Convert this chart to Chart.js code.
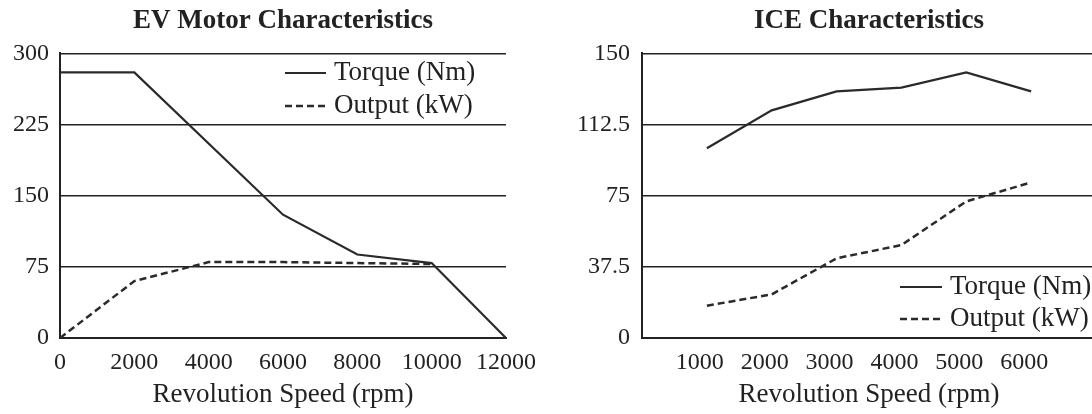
<!DOCTYPE html>
<html>
<head>
<meta charset="utf-8">
<script src="https://cdn.jsdelivr.net/npm/chart.js@4/dist/chart.umd.min.js"></script>
<style>
  html, body { margin: 0; padding: 0; background: #fff; overflow: hidden; width: 1092px; height: 414px; }
  #evChart { position: absolute; left: 0; top: 0; }
  #iceChart { position: absolute; left: 546px; top: 0; }
</style>
</head>
<body>
<canvas id="evChart" width="546" height="414"></canvas>
<canvas id="iceChart" width="550" height="414"></canvas>
<script>
// EV motor
const evTorqueRpm = [0, 2000, 6000, 8000, 10000, 12000];
const evTorque = [280, 280, 130, 88, 79, 0];
const evOutputRpm = [0, 2000, 4000, 6000, 8000, 10000];
const evOutput = [0, 60, 80, 80, 79, 78];
const evXTicks = [0, 2000, 4000, 6000, 8000, 10000, 12000];
const evYTicks = [0, 75, 150, 225, 300];

// ICE
const iceRpm = [1000, 2000, 3000, 4000, 5000, 6000];
const iceTorque = [100, 120, 130, 132, 140, 130];
const iceOutput = [17, 23, 42, 49, 72, 82];
const iceXTicks = [1000, 2000, 3000, 4000, 5000, 6000];
const iceYTicks = [0, 37.5, 75, 112.5, 150];

const serif = 'Liberation Serif';
const ink = '#222';

function pts(xs, ys) {
  return xs.map((x, i) => ({ x: x, y: ys[i] }));
}

// legend drawn as line samples inside the plot
const lineLegend = {
  id: 'lineLegend',
  afterDraw(chart, args, opts) {
    const ctx = chart.ctx;
    ctx.save();
    ctx.font = opts.size + 'px "' + serif + '"';
    ctx.textBaseline = 'middle';
    ctx.fillStyle = ink;
    chart.data.datasets.forEach((ds, i) => {
      const y = opts.y + i * opts.gap;
      ctx.beginPath();
      ctx.setLineDash(ds.borderDash || []);
      ctx.lineWidth = ds.borderWidth;
      ctx.strokeStyle = ds.borderColor;
      ctx.moveTo(opts.x, y);
      ctx.lineTo(opts.x + opts.len, y);
      ctx.stroke();
      ctx.setLineDash([]);
      ctx.fillText(ds.label, opts.x + opts.len + 8, y);
    });
    ctx.restore();
  }
};

function makeChart(id, cfg) {
  return new Chart(document.getElementById(id), {
    type: 'line',
    data: {
      datasets: [
        { label: 'Torque (Nm)', data: cfg.torque, borderColor: '#2a2a2a', borderWidth: 2.2, pointRadius: 0, tension: 0 },
        { label: 'Output (kW)', data: cfg.output, borderColor: '#2a2a2a', borderWidth: 2.5, borderDash: [7, 4], pointRadius: 0, tension: 0 }
      ]
    },
    options: {
      responsive: false,
      animation: false,
      devicePixelRatio: 1,
      layout: { padding: { left: 0, right: cfg.padRight, top: 0, bottom: 0 } },
      plugins: {
        legend: { display: false },
        tooltip: { enabled: false },
        title: {
          display: true,
          text: cfg.title,
          fullSize: false,
          color: ink,
          font: { family: serif, size: 27, weight: 'bold' },
          padding: { top: 5, bottom: 16 }
        },
        lineLegend: cfg.legend
      },
      scales: {
        x: {
          type: 'linear',
          min: cfg.xMin,
          max: cfg.xMax,
          afterBuildTicks: s => { s.ticks = cfg.xTicks.map(v => ({ value: v })); },
          afterFit: s => { s.height = 76; },
          grid: { display: false, drawTicks: false },
          border: { display: true, color: ink, width: 2 },
          ticks: {
            color: ink,
            font: { family: serif, size: 24 },
            padding: 10,
            labelOffset: cfg.labelOffset,
            maxRotation: 0,
            autoSkip: false,
            callback: v => String(v)
          },
          title: {
            display: true,
            text: 'Revolution Speed (rpm)',
            color: ink,
            font: { family: serif, size: 27 },
            padding: { top: 0, bottom: 3 }
          }
        },
        y: {
          min: 0,
          max: cfg.yMax,
          afterBuildTicks: s => { s.ticks = cfg.yTicks.map(v => ({ value: v })); },
          afterFit: s => { s.width = cfg.yWidth; },
          grid: { color: ink, lineWidth: 1.5, drawTicks: false },
          border: { display: true, color: ink, width: 2 },
          ticks: {
            color: ink,
            font: { family: serif, size: 24 },
            padding: cfg.yPad,
            callback: v => String(v)
          }
        }
      }
    },
    plugins: [lineLegend]
  });
}

makeChart('evChart', {
  title: 'EV Motor Characteristics',
  torque: pts(evTorqueRpm, evTorque),
  output: pts(evOutputRpm, evOutput),
  xMin: 0, xMax: 12000, xTicks: evXTicks,
  yMax: 300, yTicks: evYTicks,
  yWidth: 60, yPad: 11, padRight: 34, labelOffset: 0,
  legend: { x: 285, y: 73, gap: 33, len: 41, size: 27 }
});

makeChart('iceChart', {
  title: 'ICE Characteristics',
  torque: pts(iceRpm, iceTorque),
  output: pts(iceRpm, iceOutput),
  xMin: 0, xMax: 7000, xTicks: iceXTicks,
  yMax: 150, yTicks: iceYTicks,
  yWidth: 96, yPad: 12, padRight: 0, labelOffset: -7,
  legend: { x: 354, y: 287, gap: 32, len: 42, size: 27 }
});
</script>
</body>
</html>
